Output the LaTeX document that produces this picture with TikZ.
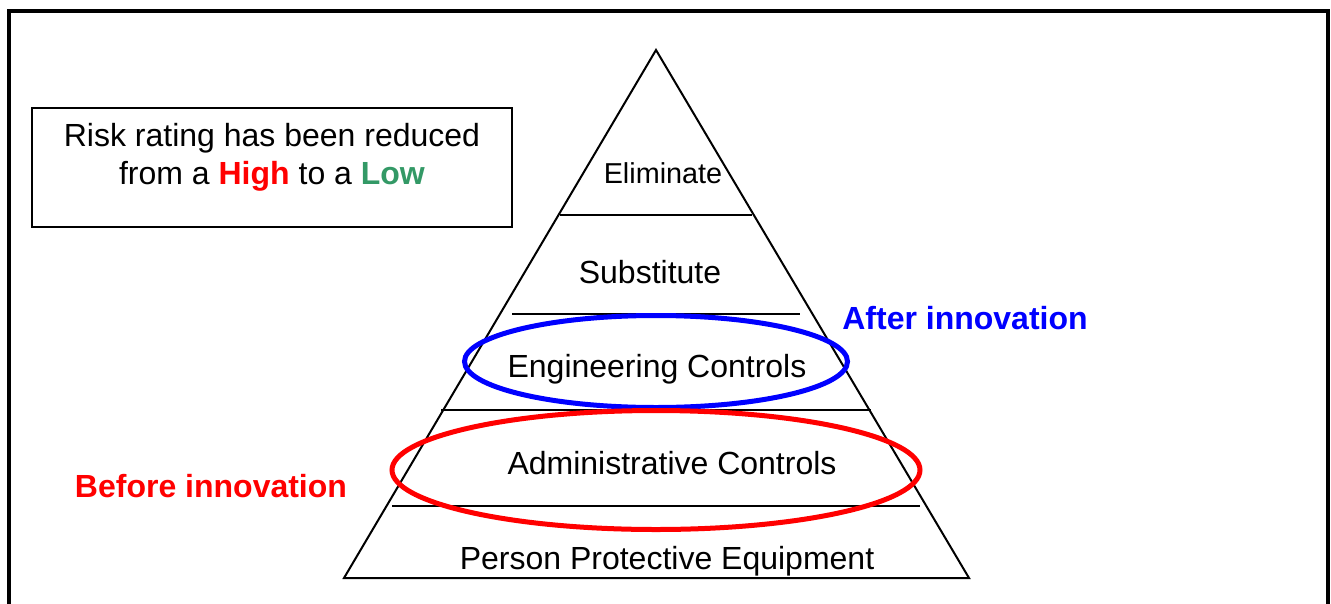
\documentclass[tikz,border=0pt]{standalone}
\usepackage{fontspec}
\setmainfont{Liberation Sans}
\definecolor{lowgreen}{RGB}{51,153,102}
\definecolor{hired}{RGB}{255,0,0}
\definecolor{afblue}{RGB}{0,0,255}
\begin{document}
\begin{tikzpicture}[x=1pt,y=-1pt,
  lbl/.style={anchor=base,inner sep=0pt,font=\fontsize{32}{38}\selectfont},
  tier/.style={line width=2pt,black},
  ring/.style={line width=5pt}]
\useasboundingbox (0,0) rectangle (1331,603);
% outer frame (open at bottom)
\coordinate (f1) at (9,610);
\coordinate (f2) at (9,11);
\coordinate (f3) at (1328,11);
\coordinate (f4) at (1328,610);
\draw[line width=4pt] (f1) -- (f2) -- (f3) -- (f4);
% message box
\node[draw,line width=2pt,minimum width=480pt,minimum height=119pt,inner sep=0pt] (box) at (272,167) {};
\node[lbl] (m1) at (272,146.7) {Risk rating has been reduced};
\node[lbl] (m2) at (272,184) {from a \textcolor{hired}{\textbf{High}} to a \textcolor{lowgreen}{\textbf{Low}}};
% pyramid
\coordinate (apex) at (656,50);
\coordinate (bl) at (344,578);
\coordinate (br) at (969,578);
\draw[tier] (apex) -- (bl) -- (br) -- cycle;
\coordinate (a1) at (560,215); \coordinate (b1) at (752,215);
\coordinate (a2) at (512,314); \coordinate (b2) at (800,314);
\coordinate (a3) at (441,410); \coordinate (b3) at (871,410);
\coordinate (a4) at (392,506); \coordinate (b4) at (920,506);
\draw[tier] (a1) -- (b1);
\draw[tier] (a2) -- (b2);
\draw[tier] (a3) -- (b3);
\draw[tier] (a4) -- (b4);
\node[lbl,font=\fontsize{28.8}{34}\selectfont] (elim) at (663,183.3) {Eliminate};
\node[lbl] (subst) at (650,283) {Substitute};
\node[lbl] (eng) at (657,377.3) {Engineering Controls};
\node[lbl] (adm) at (672,474) {Administrative Controls};
\node[lbl] (ppe) at (667,569) {Person Protective Equipment};
% ellipses
\draw[ring,afblue] (656,361.5) ellipse [x radius=191.5pt, y radius=46pt];
\draw[ring,hired] (656,470) ellipse [x radius=264pt, y radius=59.5pt];
\node[lbl,font=\fontsize{32}{38}\selectfont\bfseries,text=afblue] (after) at (965,329.3) {After innovation};
\node[lbl,font=\fontsize{32}{38}\selectfont\bfseries,text=hired] (before) at (211,497.5) {Before innovation};
\end{tikzpicture}
\end{document}
